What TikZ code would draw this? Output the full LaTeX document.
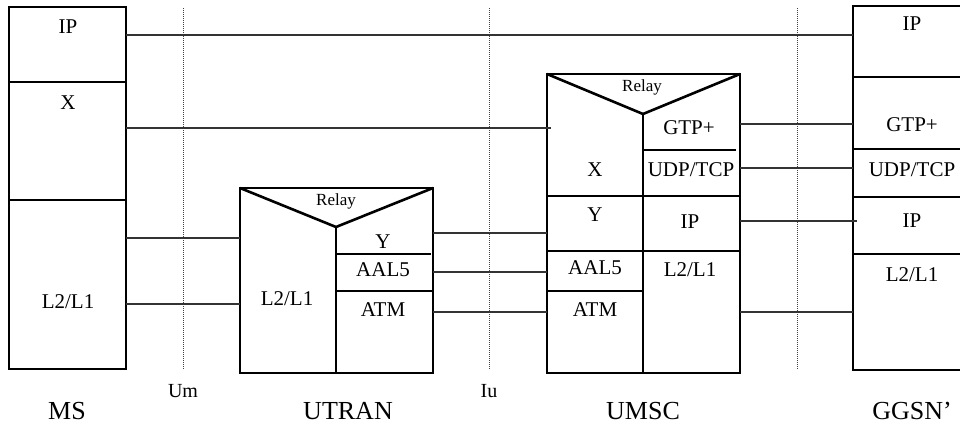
\documentclass[tikz,border=0pt]{standalone}
\usepackage{fontspec}
\setmainfont{Liberation Serif}
\begin{document}
\begin{tikzpicture}[x=1pt,y=-1pt,
  box/.style={draw, line width=2.6pt, rectangle, anchor=north west, inner sep=0pt, outer sep=0pt},
  frame/.style={rectangle, anchor=north west, inner sep=0pt, outer sep=0pt},
  div/.style={line width=2.6pt},
  thindiv/.style={line width=1.5pt},
  link/.style={line width=1.2pt, draw=black!80},
  iface/.style={line width=1pt, draw=black!75, dash pattern=on 1pt off 1pt},
  lab/.style={font=\fontsize{21}{24}\selectfont, inner sep=0pt},
  relay/.style={font=\fontsize{17}{20}\selectfont, inner sep=0pt},
  entity/.style={font=\fontsize{26}{30}\selectfont, inner sep=0pt},
  ifname/.style={font=\fontsize{20}{24}\selectfont, inner sep=0pt}]
\useasboundingbox (0,0) rectangle (960,428);

% interface reference lines
\coordinate (um1) at (183,8);  \coordinate (um2) at (183,370);
\coordinate (iu1) at (489,8);  \coordinate (iu2) at (489,370);
\coordinate (gi1) at (797,8);  \coordinate (gi2) at (797,370);
\draw[iface] (um1) -- (um2);
\draw[iface] (iu1) -- (iu2);
\draw[iface] (gi1) -- (gi2);

% MS
\node[box, minimum width=117pt, minimum height=362pt] (MS) at (9,7) {};
\draw[div] (MS.west |- 0,82) -- (MS.east |- 0,82);
\draw[div] (MS.west |- 0,200) -- (MS.east |- 0,200);
\node[lab] (msip) at (68,27) {IP};
\node[lab] (msx) at (68,103) {X};
\node[lab] (msl2) at (68,302) {L2/L1};

% UTRAN
\node[box, minimum width=193pt, minimum height=185pt] (UT) at (240,188) {};
\coordinate (utapex) at (336,227);
\draw[div] (UT.north west) -- (utapex) -- (UT.north east);
\draw[div] (utapex) -- (UT.south west -| utapex);
\draw[thindiv] (336,254) -- (431,254);
\draw[div] (336,291) -- (UT.east |- 0,291);
\node[relay] (utrelay) at (336,201) {Relay};
\node[lab] (utl2) at (287,299) {L2/L1};
\node[lab] (uty) at (383,242) {Y};
\node[lab] (utaal) at (383,270) {AAL5};
\node[lab] (utatm) at (383,310) {ATM};

% UMSC
\node[box, minimum width=193pt, minimum height=299pt] (UM) at (547,74) {};
\coordinate (umapex) at (643,114);
\draw[div] (UM.north west) -- (umapex) -- (UM.north east);
\draw[div] (umapex) -- (UM.south west -| umapex);
\draw[div] (UM.west |- 0,196) -- (643,196);
\draw[div] (UM.west |- 0,251) -- (643,251);
\draw[thindiv] (UM.west |- 0,291) -- (643,291);
\draw[div] (643,150) -- (736,150);
\draw[thindiv] (643,196) -- (UM.east |- 0,196);
\draw[thindiv] (643,251) -- (UM.east |- 0,251);
\node[relay] (umrelay) at (642,87) {Relay};
\node[lab] (umgtp) at (689,128) {GTP+};
\node[lab] (umx) at (595,170) {X};
\node[lab] (umudp) at (691,170) {UDP/TCP};
\node[lab] (umy) at (595,215) {Y};
\node[lab] (umip) at (690,222) {IP};
\node[lab] (umaal) at (595,268) {AAL5};
\node[lab] (uml2) at (690,270) {L2/L1};
\node[lab] (umatm) at (595,310) {ATM};

% GGSN'
\node[frame, minimum width=107pt, minimum height=364pt] (GG) at (853,6) {};
\draw[div] (GG.north east) -- (GG.north west) -- (GG.south west) -- (GG.south east);
\draw[div] (GG.west |- 0,77) -- (GG.east |- 0,77);
\draw[div] (GG.west |- 0,149) -- (GG.east |- 0,149);
\draw[div] (GG.west |- 0,197) -- (GG.east |- 0,197);
\draw[thindiv] (GG.west |- 0,254) -- (GG.east |- 0,254);
\node[lab] (ggip) at (912,24) {IP};
\node[lab] (gggtp) at (912,125) {GTP+};
\node[lab] (ggudp) at (912,170) {UDP/TCP};
\node[lab] (ggip2) at (912,221) {IP};
\node[lab] (ggl2) at (912,275) {L2/L1};

% peer connections
\draw[link] (MS.east |- 0,35) -- (GG.west |- 0,35);
\draw[link] (MS.east |- 0,128) -- ([xshift=4pt]UM.west |- 0,128);
\draw[link] (MS.east |- 0,238) -- (UT.west |- 0,238);
\draw[link] (MS.east |- 0,304) -- (UT.west |- 0,304);
\draw[link] (UT.east |- 0,233) -- (UM.west |- 0,233);
\draw[link] (UT.east |- 0,272) -- (UM.west |- 0,272);
\draw[link] (UT.east |- 0,312) -- (UM.west |- 0,312);
\draw[link] (UM.east |- 0,124) -- (GG.west |- 0,124);
\draw[link] (UM.east |- 0,168) -- (GG.west |- 0,168);
\draw[link] (UM.east |- 0,221) -- ([xshift=4pt]GG.west |- 0,221);
\draw[link] (UM.east |- 0,312) -- (GG.west |- 0,312);

% names
\node[ifname] (umname) at (183,391) {Um};
\node[ifname] (iuname) at (489,391) {Iu};
\node[entity] (msname) at (67,411) {MS};
\node[entity] (utname) at (348,411) {UTRAN};
\node[entity] (umscname) at (643,411) {UMSC};
\node[entity] (ggname) at (912,411) {GGSN’};
\end{tikzpicture}
\end{document}
